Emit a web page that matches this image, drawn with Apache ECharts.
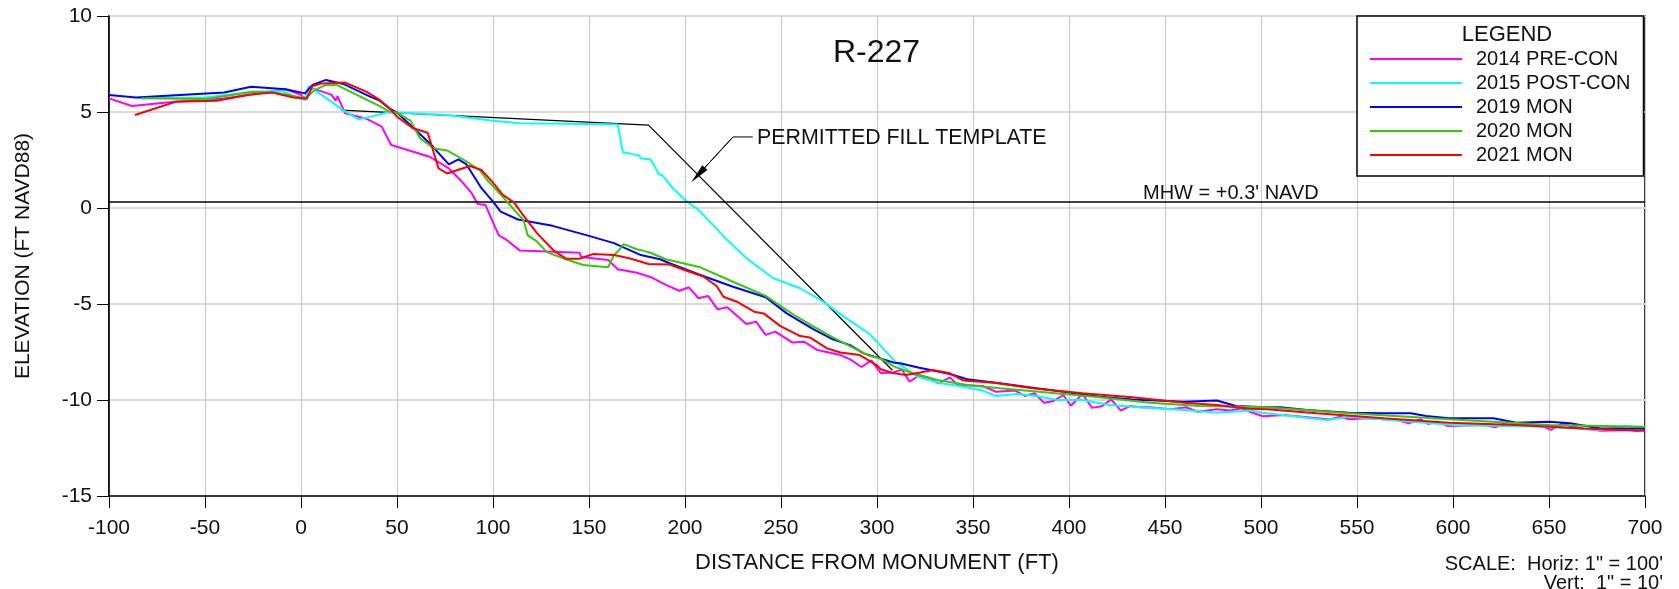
<!DOCTYPE html>
<html>
<head>
<meta charset="utf-8">
<script src="https://cdn.jsdelivr.net/npm/echarts@6/dist/echarts.min.js"></script>
<style>
html,body{margin:0;padding:0;background:#fff;}
#chart{width:1679px;height:589px;}
</style>
</head>
<body>
<div id="chart"></div>
<script>
// ---------- DATA ----------
const seriesNames = ['2014 PRE-CON', '2015 POST-CON', '2019 MON', '2020 MON', '2021 MON'];

const x2014 = [-100,-88,-66,-40,-20,-8,0,2,4,10,16,18,19,23,34,42,47,67,77,83,89,92,96,103,107,114,145,146,160,165,175,182,190,191,197,202,207,212,217,222,232,237,242,247,256,262,269,281,286,292,297,302,308,313,317,322,328,332,338,342,355,362,372,377,382,387,392,397,401,407,412,417,422,427,432,437,442,453,461,467,477,484,490,494,501,512,536,541,546,555,571,577,583,587,592,597,616,622,626,632,642,647,651,657,661,668,677,691,696,700];
const y2014 = [5.71,5.31,5.54,5.7,6.0,6.18,5.9,5.63,6.27,6.1,5.89,5.59,5.83,4.93,4.65,4.24,3.28,2.67,2.06,1.46,0.76,0.21,0.16,-1.43,-1.65,-2.22,-2.33,-2.55,-2.71,-3.19,-3.37,-3.59,-4.0,-3.96,-4.31,-4.13,-4.70,-4.58,-5.28,-5.17,-6.04,-5.92,-6.61,-6.44,-7.01,-6.96,-7.40,-7.66,-7.88,-8.28,-7.94,-8.6,-8.58,-8.42,-9.05,-8.70,-8.87,-9.13,-8.82,-9.22,-9.27,-9.57,-9.51,-9.79,-9.65,-10.14,-10.05,-9.74,-10.30,-9.69,-10.41,-10.33,-9.97,-10.55,-10.31,-10.38,-10.38,-10.48,-10.38,-10.61,-10.48,-10.55,-10.43,-10.61,-10.85,-10.78,-11.01,-10.87,-11.0,-10.95,-11.04,-11.21,-11.0,-11.25,-11.13,-11.35,-11.30,-11.42,-11.25,-11.30,-11.30,-11.39,-11.56,-11.22,-11.35,-11.48,-11.60,-11.56,-11.62,-11.55];

const x2015 = [-85,-50,-25,-10,0,2,4,12,22,30,35,46,50,76,100,114,150,165,167.6,176,177,182,186.5,188,193,200,206,208,222,232,246,260,272,284,296,303,310,315,321,333,343,355,362,373,383,394,407,421,437,460,477,494,501,534,546,600,647,677,690,700];
const y2015 = [5.72,5.75,6.05,6.1,5.68,5.63,6.35,5.80,5.1,4.62,4.72,5.0,4.97,4.84,4.55,4.41,4.37,4.35,2.9,2.74,2.58,2.54,1.75,1.72,1.11,0.42,-0.02,-0.19,-1.67,-2.62,-3.66,-4.18,-4.88,-5.75,-6.55,-7.3,-8.05,-8.35,-8.78,-9.13,-9.27,-9.51,-9.79,-9.69,-9.79,-10.0,-10.0,-10.26,-10.38,-10.52,-10.66,-10.55,-10.66,-11.04,-10.87,-11.30,-11.39,-11.56,-11.35,-11.48];

const x2019 = [-100,-86,-40,-26,-8,2,6,13,22,36,41,46,50,67,77,82,86,94,100,104,113,131,150,163,177,187,192,208,225,242,253,267,277,286,293,309,312,322,328,338,347,364,383,400,416,433,460,477,482,487,503,510,524,546,564,578,586,598,621,633,650,661,677,700];
const y2019 = [5.89,5.76,6.02,6.32,6.18,5.97,6.41,6.67,6.46,5.8,5.59,5.19,4.97,3.37,2.27,2.53,2.29,1.03,0.33,-0.19,-0.6,-0.93,-1.45,-1.83,-2.45,-2.67,-2.88,-3.49,-4.10,-4.65,-5.49,-6.32,-6.84,-7.14,-7.57,-8.06,-8.09,-8.32,-8.44,-8.65,-8.92,-9.13,-9.39,-9.61,-9.83,-9.97,-10.09,-10.03,-10.17,-10.31,-10.38,-10.38,-10.52,-10.66,-10.69,-10.69,-10.83,-10.95,-10.95,-11.18,-11.13,-11.21,-11.48,-11.48];

const x2020 = [-83,-49,-25,-13,0,3,7,12.5,18.5,41,46,50,57,62,69,76,85,93,97,105,116,118,123,128,138,147,160,163,165,168,175,178,182,190,208,225,242,256,267,277,288,296,302,309,321,333,347,364,390,416,442,468,503,546,598,650,700];
const y2020 = [5.71,5.68,6.06,6.0,5.76,5.76,6.14,6.39,6.41,5.31,5.02,4.97,4.55,3.63,3.11,3.0,2.5,1.98,1.46,0.59,-0.65,-1.41,-1.75,-2.3,-2.67,-2.97,-3.08,-2.45,-2.27,-1.88,-2.15,-2.22,-2.33,-2.67,-3.09,-3.84,-4.58,-5.52,-6.18,-6.74,-7.3,-7.7,-7.85,-8.26,-8.70,-8.99,-9.22,-9.39,-9.62,-9.86,-10.14,-10.31,-10.38,-10.69,-11.0,-11.3,-11.39];

const x2021 = [-86.5,-65,-44,-27,-15,-4,3,6,11,23,34,41,47,50,58.5,66,67,71.6,76,88,94,100,105,111,115,123,132,138,145,152,163,171,181,192,199,209.5,216.5,220,227,236,241,249.5,260,265,274,281,291,293,300,302,308.5,315,322,329,338,345,361,381,407,433,460,477,494,503,529,564,598,633,668,700];
const y2021 = [4.84,5.54,5.59,5.9,6.02,5.76,5.69,6.35,6.49,6.53,6.06,5.63,5.1,4.75,4.15,3.92,3.85,2.07,1.8,2.19,1.98,1.32,0.7,0.28,-0.28,-1.32,-2.25,-2.64,-2.64,-2.4,-2.45,-2.62,-2.92,-2.94,-3.2,-3.57,-4.06,-4.62,-4.88,-5.40,-5.49,-6.14,-6.67,-6.74,-7.31,-7.53,-7.66,-7.78,-8.2,-8.40,-8.6,-8.7,-8.58,-8.44,-8.61,-8.99,-9.10,-9.39,-9.65,-9.86,-10.14,-10.26,-10.45,-10.48,-10.69,-10.95,-11.18,-11.30,-11.48,-11.6];

const templateX = [21, 181, 308];
const templateY = [5.1, 4.32, -8.45];
const mhwElevation = 0.3;

const leaderX = [235.3, 225, 206.8];
const leaderY = [3.70, 3.70, 1.72];

const xTicks = {min: -100, max: 700, step: 50};
const yTicks = {min: -15, max: 10, step: 5};

const colors = ['#ff00ff', '#00ffff', '#0000ff', '#33cc00', '#ff0000'];

// ---------- BUILD ----------
function zip(xs, ys) { return xs.map((x, i) => [x, ys[i]]); }
const profiles = [zip(x2014, y2014), zip(x2015, y2015), zip(x2019, y2019), zip(x2020, y2020), zip(x2021, y2021)];

const FONT = "'Liberation Sans', Arial, sans-serif";
const chart = echarts.init(document.getElementById('chart'), null, {renderer: 'canvas'});

const series = profiles.map((d, i) => ({
  name: seriesNames[i],
  type: 'line',
  data: d,
  symbol: 'none',
  lineStyle: {color: colors[i], width: 2},
  itemStyle: {color: colors[i]},
  z: 3 + i,
  animation: false
}));

series.unshift({
  name: 'PERMITTED FILL TEMPLATE',
  type: 'line',
  data: zip(templateX, templateY),
  symbol: 'none',
  lineStyle: {color: '#000', width: 1.2},
  z: 2,
  animation: false,
  markLine: {
    silent: true,
    symbol: ['none', 'none'],
    animation: false,
    label: {show: false},
    lineStyle: {color: '#000', width: 1.5, type: 'solid'},
    data: [{yAxis: mhwElevation}]
  }
});

series.push({
  name: 'leader',
  type: 'line',
  data: zip(leaderX, leaderY),
  symbol: 'none',
  lineStyle: {color: '#000', width: 1},
  z: 9,
  animation: false,
  markLine: {
    silent: true,
    symbol: ['none', 'triangle'],
    symbolSize: [7, 20],
    animation: false,
    label: {show: false},
    lineStyle: {color: '#000', width: 1, type: 'solid'},
    itemStyle: {color: '#000'},
    data: [[{coord: [leaderX[1], leaderY[1]]}, {coord: [leaderX[2], leaderY[2]]}]]
  }
});

const option = {
  animation: false,
  backgroundColor: '#fff',
  textStyle: {fontFamily: FONT},
  grid: {left: 109, right: 34, top: 16, bottom: 93, show: true, borderColor: '#000', borderWidth: 1.5, backgroundColor: 'transparent'},
  xAxis: {
    type: 'value', min: xTicks.min, max: xTicks.max, interval: xTicks.step,
    name: 'DISTANCE FROM MONUMENT (FT)', nameLocation: 'middle', nameGap: 56,
    nameTextStyle: {fontSize: 22, color: '#111', fontFamily: FONT},
    axisLine: {show: true, onZero: false, lineStyle: {color: '#000', width: 1.5}},
    axisTick: {show: true, length: 12, lineStyle: {color: '#000', width: 1}},
    axisLabel: {fontSize: 21, color: '#111', margin: 22, fontFamily: FONT},
    splitLine: {show: true, lineStyle: {color: '#c6c6c6', width: 1}}
  },
  yAxis: {
    type: 'value', min: yTicks.min, max: yTicks.max, interval: yTicks.step,
    name: 'ELEVATION (FT NAVD88)', nameLocation: 'middle', nameGap: 75, nameRotate: 90,
    nameTextStyle: {fontSize: 21, color: '#111', fontFamily: FONT},
    axisLine: {show: true, onZero: false, lineStyle: {color: '#000', width: 1.5}},
    axisTick: {show: true, length: 12, lineStyle: {color: '#000', width: 1}},
    axisLabel: {fontSize: 21, color: '#111', margin: 17, fontFamily: FONT},
    splitLine: {show: true, lineStyle: {color: '#dadada', width: 2}}
  },
  legend: {
    data: seriesNames,
    orient: 'vertical',
    left: 1357, top: 16,
    padding: [31, 13, 9, 13],
    itemGap: 0,
    itemWidth: 92, itemHeight: 2,
    icon: 'rect',
    backgroundColor: '#fff',
    borderColor: '#000', borderWidth: 1.5,
    textStyle: {fontSize: 20, color: '#111', lineHeight: 24, padding: [0, 0, 0, 9], fontFamily: FONT},
    selectedMode: false,
    z: 20
  },
  graphic: [
    {type: 'text', x: 876.5, y: 53, z: 100, style: {text: 'R-227', fontSize: 32, fontFamily: FONT, fill: '#111', textAlign: 'center', textVerticalAlign: 'middle'}},
    {type: 'text', x: 757, y: 138, z: 100, style: {text: 'PERMITTED FILL TEMPLATE', fontSize: 21.4, fontFamily: FONT, fill: '#111', textAlign: 'left', textVerticalAlign: 'middle'}},
    {type: 'text', x: 1143, y: 193, z: 100, style: {text: "MHW = +0.3' NAVD", fontSize: 20, fontFamily: FONT, fill: '#111', textAlign: 'left', textVerticalAlign: 'middle'}},
    {type: 'text', x: 1507, y: 35, z: 100, style: {text: 'LEGEND', fontSize: 22, fontFamily: FONT, fill: '#111', textAlign: 'center', textVerticalAlign: 'middle'}},
    {type: 'text', x: 1663, y: 564, z: 100, style: {text: 'SCALE:  Horiz: 1" = 100\'', fontSize: 20, fontFamily: FONT, fill: '#111', textAlign: 'right', textVerticalAlign: 'middle'}},
    {type: 'text', x: 1663, y: 583, z: 100, style: {text: 'Vert:  1" = 10\'', fontSize: 20, fontFamily: FONT, fill: '#111', textAlign: 'right', textVerticalAlign: 'middle'}}
  ],
  series: series
};
chart.setOption(option);
</script>
</body>
</html>
